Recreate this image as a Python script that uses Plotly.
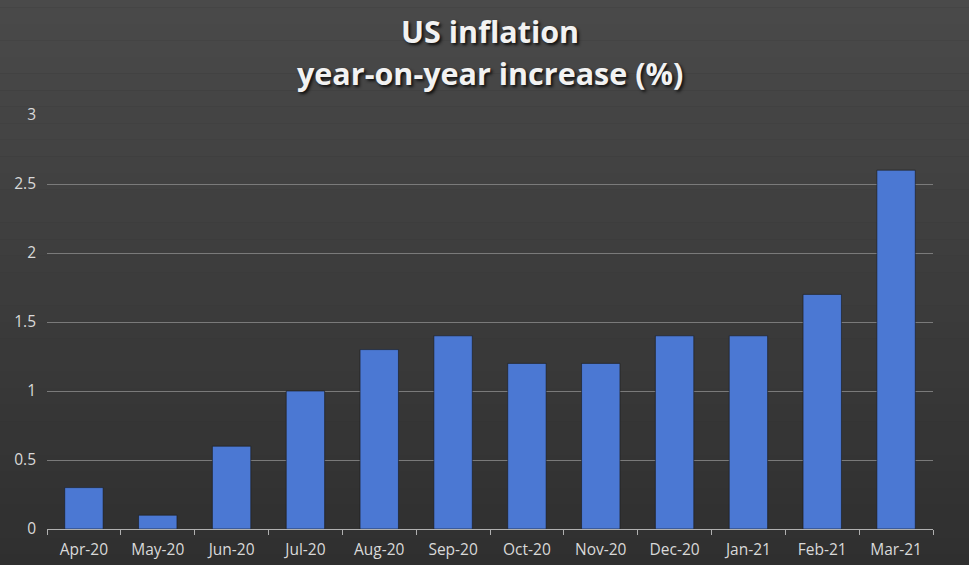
import plotly.graph_objects as go

months = ["Apr-20", "May-20", "Jun-20", "Jul-20", "Aug-20", "Sep-20",
          "Oct-20", "Nov-20", "Dec-20", "Jan-21", "Feb-21", "Mar-21"]
inflation = [0.3, 0.1, 0.6, 1.0, 1.3, 1.4, 1.2, 1.2, 1.4, 1.4, 1.7, 2.6]
title_lines = ["US inflation", "year-on-year increase (%)"]

fig = go.Figure(go.Bar(
    x=months,
    y=inflation,
    width=0.52,
    marker=dict(color="#4b78d3", line=dict(width=1, color="rgba(25,25,25,0.6)")),
    hovertemplate="%{x}: %{y}%<extra></extra>",
))

# dark background, lighter towards the top (rough stand-in for the gradient)
bands = 40
top, bottom = (0x4a, 0x4a, 0x4a), (0x2b, 0x2b, 0x2b)
shapes = []
for i in range(bands):
    t = i / (bands - 1)
    c = tuple(round(a + (b - a) * t) for a, b in zip(top, bottom))
    shapes.append(dict(
        type="rect", xref="paper", yref="paper", layer="below",
        x0=-0.1, x1=1.1,
        y0=1.3 - (i + 1) * 1.6 / bands, y1=1.3 - i * 1.6 / bands,
        fillcolor="rgb(%d,%d,%d)" % c, line=dict(width=0),
    ))

# two title lines placed separately to get the wider line spacing
title_font = dict(family="Open Sans", size=30.5, color="#f2f2f2",
                  weight="bold", shadow="2px 2px 3px #111111")
annotations = [
    dict(text=line, xref="paper", yref="paper", x=0.5, xanchor="center",
         y=y, yanchor="middle", showarrow=False, font=title_font)
    for line, y in zip(title_lines, [1.203, 1.1014])
]

fig.update_layout(
    width=969,
    height=565,
    margin=dict(l=47, r=36, t=115, b=36),
    paper_bgcolor="#383838",
    plot_bgcolor="rgba(0,0,0,0)",
    shapes=shapes,
    showlegend=False,
    annotations=annotations,
    font=dict(family="Open Sans", size=15.5, color="#d9d9d9"),
    xaxis=dict(
        type="category",
        automargin=False,
        showgrid=False,
        showline=True, linecolor="#b0b0b0", linewidth=1,
        ticks="outside", tickson="boundaries", ticklen=5,
        tickcolor="#b0b0b0",
        ticklabelstandoff=6,
        tickfont=dict(size=15.5, color="#d9d9d9"),
    ),
    yaxis=dict(
        range=[0, 3],
        dtick=0.5,
        automargin=False,
        showgrid=True, gridcolor="#7a7a7a", gridwidth=1,
        zeroline=False,
        showline=False,
        ticks="",
        ticklabelstandoff=10,
        tickfont=dict(size=15.5, color="#d9d9d9"),
    ),
)

fig.write_html("out.html", config={"displayModeBar": False},
               post_script="document.body.style.margin='0';")
